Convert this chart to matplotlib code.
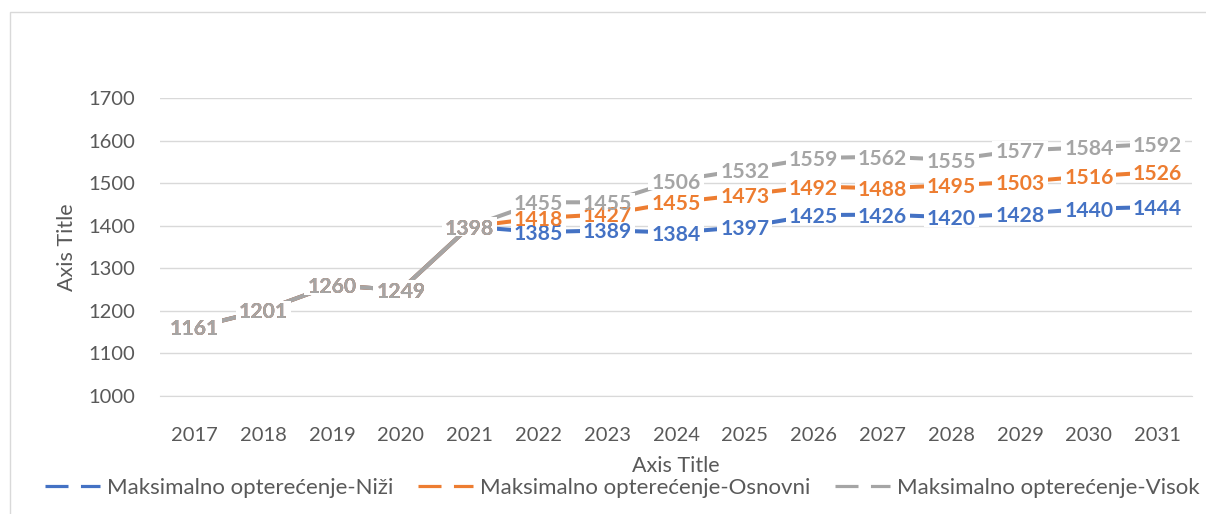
import matplotlib
matplotlib.use("Agg")
import matplotlib.pyplot as plt
from matplotlib.lines import Line2D
from matplotlib.patches import Rectangle
from matplotlib.transforms import IdentityTransform

years = [2017, 2018, 2019, 2020, 2021, 2022, 2023, 2024, 2025, 2026, 2027, 2028, 2029, 2030, 2031]
nizi = [1161, 1201, 1260, 1249, 1398, 1385, 1389, 1384, 1397, 1425, 1426, 1420, 1428, 1440, 1444]
osnovni = [1161, 1201, 1260, 1249, 1398, 1418, 1427, 1455, 1473, 1492, 1488, 1495, 1503, 1516, 1526]
visok = [1161, 1201, 1260, 1249, 1398, 1455, 1455, 1506, 1532, 1559, 1562, 1555, 1577, 1584, 1592]
series_names = ["Maksimalno opterećenje-Niži", "Maksimalno opterećenje-Osnovni", "Maksimalno opterećenje-Visok"]
y_ticks = [1000, 1100, 1200, 1300, 1400, 1500, 1600, 1700]

colors = ["#4472C4", "#ED7D31", "#A5A5A5"]
txt_color = "#595959"
grid_color = "#D9D9D9"

plt.rcParams['font.family'] = ['Lato', 'DejaVu Sans']

W, H = 1206, 514
DPI = 100
fig = plt.figure(figsize=(W / DPI, H / DPI), dpi=DPI)
ax = fig.add_axes([160 / W, 1 - 396 / H, (1192 - 160) / W, (396 - 98) / H])

# chart border
fig.patches.append(Rectangle((10 / W, -0.1), 1.2, 1 - 12 / H + 0.1, transform=fig.transFigure,
                             fill=False, ec=grid_color, lw=1.0, zorder=0))

x = list(range(len(years)))
all_series = [nizi, osnovni, visok]
for s, c in zip(all_series, colors):
    ax.plot(x, s, color=c, lw=2.9, solid_capstyle='butt', zorder=3)

ax.set_xlim(-0.5, len(years) - 0.5)
ax.set_ylim(1000, 1700)
ax.set_yticks(y_ticks)
ax.set_xticks(x)
ax.set_xticklabels([str(y) for y in years])
ax.grid(axis='y', color=grid_color, lw=1.0, zorder=0)
ax.set_axisbelow(True)
for sp in ['top', 'right', 'left']:
    ax.spines[sp].set_visible(False)
ax.spines['bottom'].set_color(grid_color)
ax.tick_params(axis='both', length=0, labelsize=14.5, labelcolor=txt_color)
ax.tick_params(axis='x', pad=22)
ax.tick_params(axis='y', pad=18)

labels = []
for s, c in zip(all_series, colors):
    for xi, v in zip(x, s):
        t = ax.text(xi, v, str(v), color=c, fontsize=15.2, fontweight='bold',
                    ha='center', va='center_baseline', zorder=5)
        labels.append((t, xi, v))

fig.text(67 / W, 1 - 247 / H, "Axis Title", rotation=90, ha='center', va='center',
         fontsize=15.5, color=txt_color)
fig.text(676 / W, 1 - 466 / H, "Axis Title", ha='center', va='center',
         fontsize=15.5, color=txt_color)

handles = [Line2D([0], [0], color=c, lw=2.3, ls=(0, (7.2, 3.9))) for c in colors]
fig.legend(handles, series_names, ncol=3, loc='center', bbox_to_anchor=(622 / W, 1 - 488 / H),
           frameon=False, fontsize=16, handlelength=2.5, handletextpad=0.3, columnspacing=1.1,
           labelcolor=txt_color)

# white backgrounds behind data labels (hide lines and gridlines, like Excel)
fig.canvas.draw()
renderer = fig.canvas.get_renderer()
for t, xi, v in labels:
    ext = t.get_window_extent(renderer)
    cx, cy = ax.transData.transform((xi, v))
    bw = ext.width + 6
    bh = 19
    ax.add_patch(Rectangle((cx - bw / 2, cy - bh / 2), bw, bh, transform=IdentityTransform(),
                           fc='white', ec='none', zorder=4, clip_on=False))

fig.savefig("out.png", dpi=DPI)
